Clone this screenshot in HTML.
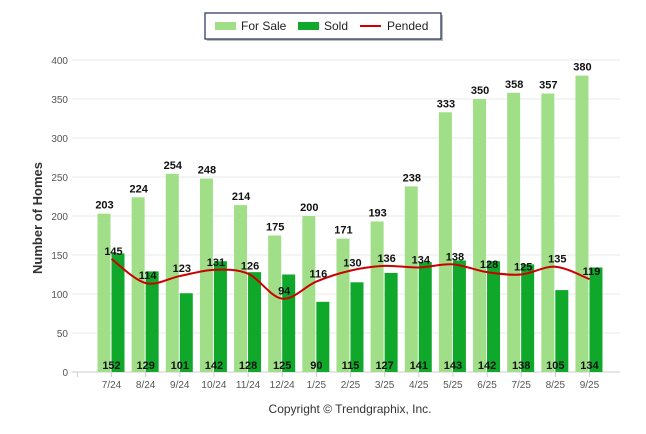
<!DOCTYPE html>
<html><head><meta charset="utf-8"><style>
body{margin:0;background:#fff;font-family:"Liberation Sans",sans-serif}
#c{position:relative;width:646px;height:434px;overflow:hidden}
</style></head><body>
<div id="c">
<svg id="s" width="646" height="434" xmlns="http://www.w3.org/2000/svg" font-family="Liberation Sans, sans-serif">
<g>
<rect x="207" y="15" width="236" height="26" fill="#777" opacity="0.5"/>
<rect x="205" y="13" width="236" height="26" fill="#fff" stroke="#1f2f55" stroke-width="1.2"/>
<rect x="215" y="22" width="21" height="8" fill="#a0df88"/>
<text x="241" y="30" font-size="12" fill="#222">For Sale</text>
<rect x="298" y="22" width="21" height="8" fill="#0fa82a"/>
<text x="324" y="30" font-size="12" fill="#222">Sold</text>
<line x1="360" y1="26" x2="381" y2="26" stroke="#cc0000" stroke-width="2"/>
<text x="387" y="30" font-size="12" fill="#222">Pended</text>
</g>
<text transform="translate(42,218) rotate(-90)" text-anchor="middle" font-size="13" font-weight="bold" fill="#333">Number of Homes</text>
<text x="350" y="413" text-anchor="middle" font-size="12" fill="#333">Copyright © Trendgraphix, Inc.</text>
<g id="grid"></g><g id="bars"></g><g id="line"></g><g id="labels"></g>
</svg>
</div>
<script>
const categories=["7/24","8/24","9/24","10/24","11/24","12/24","1/25","2/25","3/25","4/25","5/25","6/25","7/25","8/25","9/25"];
const forSale=[203,224,254,248,214,175,200,171,193,238,333,350,358,357,380];
const sold=[152,129,101,142,128,125,90,115,127,141,143,142,138,105,134];
const pended=[145,114,123,131,126,94,116,130,136,134,138,128,125,135,119];
const yTicks=[0,50,100,150,200,250,300,350,400];
const NS="http://www.w3.org/2000/svg";
const y=v=>372-v*0.78;
const x=i=>111.5+i*34.14;
function mk(tag,attrs,parent){const e=document.createElementNS(NS,tag);for(const k in attrs)e.setAttribute(k,attrs[k]);document.getElementById(parent).appendChild(e);return e;}
yTicks.forEach(t=>{
 const l=mk('line',{x1:72,x2:620,y1:y(t),y2:y(t),stroke:t?'#e8e8e8':'#ccc','stroke-width':1},'grid');
 
 
 const tx=mk('text',{x:68,y:y(t)+4,'text-anchor':'end','font-size':10,fill:'#555'},'grid');tx.textContent=t;
 
 
});
for(let i=0;i<=categories.length;i++){
 const tk=mk('line',{x1:x(i)-34.14/2-17,x2:x(i)-34.14/2-17,y1:372,y2:377,stroke:'#ccc'},'grid');
 
 
}
categories.forEach((c,i)=>{
 const cx=x(i);
 const b1=mk('rect',{x:cx-14,y:y(forSale[i]),width:13,height:forSale[i]*0.78,fill:'#a0df88'},'bars');
 
 
 const b2=mk('rect',{x:cx,y:y(sold[i]),width:13,height:sold[i]*0.78,fill:'#0fa82a'},'bars');
 
 
 const xl=mk('text',{x:cx,y:388,'text-anchor':'middle','font-size':10,fill:'#555'},'labels');xl.textContent=c;
 
 
 const l1=mk('text',{x:cx-7,y:y(forSale[i])-5,'text-anchor':'middle','font-size':11,'font-weight':'bold',fill:'#111'},'labels');l1.textContent=forSale[i];
 
 
 const l2=mk('text',{x:cx,y:369,'text-anchor':'middle','font-size':11,'font-weight':'bold',fill:'#111'},'labels');l2.textContent=sold[i];
 
 
 const l3=mk('text',{x:cx+2,y:y(pended[i])-4,'text-anchor':'middle','font-size':11,'font-weight':'bold',fill:'#111'},'labels');l3.textContent=pended[i];
 
 
});
const pts=pended.map((v,i)=>[x(i),y(v)]);
let d='M'+pts[0][0]+','+pts[0][1];
for(let i=0;i<pts.length-1;i++){
 const p0=pts[i-1]||pts[i],p1=pts[i],p2=pts[i+1],p3=pts[i+2]||p2;
 const c1=[p1[0]+(p2[0]-p0[0])/6,p1[1]+(p2[1]-p0[1])/6],c2=[p2[0]-(p3[0]-p1[0])/6,p2[1]-(p3[1]-p1[1])/6];
 d+=` C${c1[0]},${c1[1]} ${c2[0]},${c2[1]} ${p2[0]},${p2[1]}`;
}
const pl=mk('path',{d:d,fill:'none',stroke:'#cc0000','stroke-width':2},'line');


</script>
</body></html>
